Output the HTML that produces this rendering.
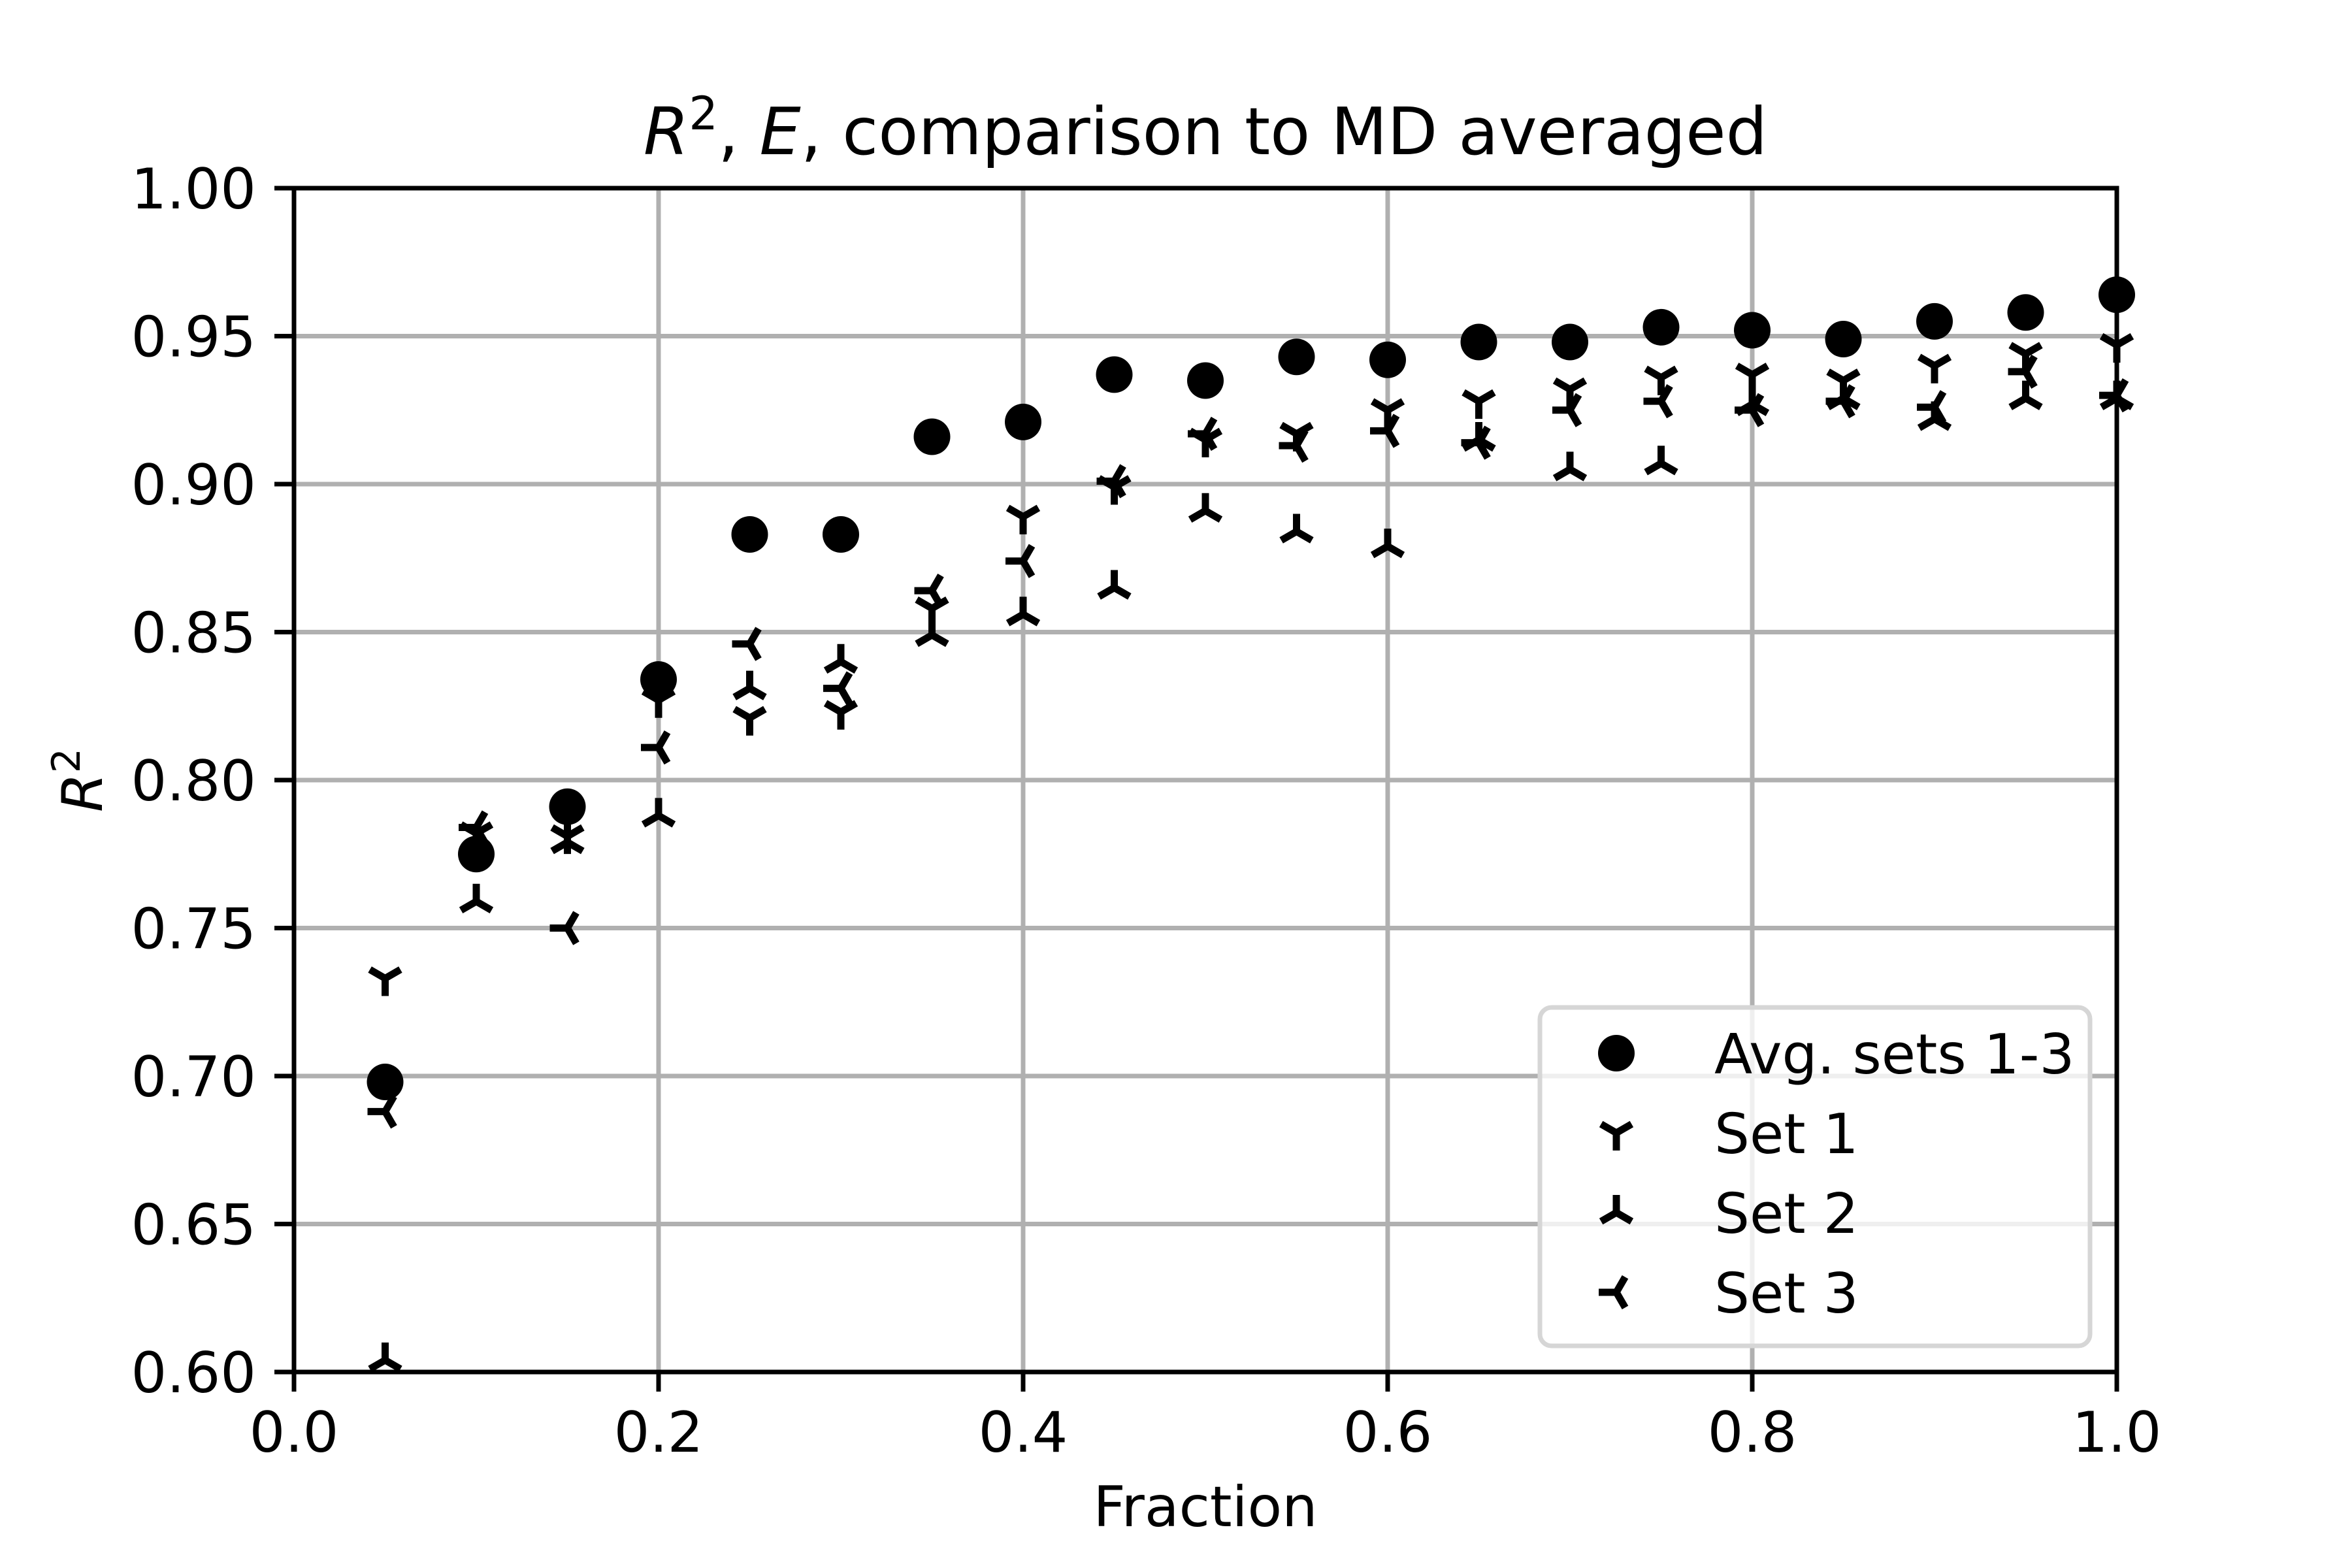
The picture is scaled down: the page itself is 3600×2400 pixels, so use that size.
<!DOCTYPE html>
<html><head><meta charset="utf-8"><style>
html,body{margin:0;padding:0;background:#fff;}
svg{display:block;font-family:"DejaVu Sans","Liberation Sans",sans-serif;}
</style></head><body>
<svg id="chart" width="3600" height="2400" viewBox="0 0 3600 2400" xmlns="http://www.w3.org/2000/svg">
<rect width="3600" height="2400" fill="#fff"/>
<g id="grid"></g>
<g id="ticks"></g>
<g id="marks"></g>
<rect x="450" y="288" width="2790" height="1812" fill="none" stroke="#000" stroke-width="7"/>
<text x="1845" y="236" font-size="100" text-anchor="middle"><tspan font-style="italic">R</tspan><tspan font-size="70" dy="-38">2</tspan><tspan dy="38">, </tspan><tspan font-style="italic">E</tspan><tspan>, comparison to MD averaged</tspan></text>
<text x="1845" y="2336" font-size="86" text-anchor="middle">Fraction</text>
<text transform="translate(156,1194) rotate(-90)" font-size="86" text-anchor="middle"><tspan font-style="italic">R</tspan><tspan font-size="60" dy="-34">2</tspan></text>
<g id="legend">
<rect x="2357" y="1542" width="842" height="518" rx="18" fill="#fff" fill-opacity="0.8" stroke="#d6d6d6" stroke-width="7"/>
</g>
</svg>
<script>
const fractions=[0.05,0.10,0.15,0.20,0.25,0.30,0.35,0.40,0.45,0.50,0.55,0.60,0.65,0.70,0.75,0.80,0.85,0.90,0.95,1.00];
const avgValues=[0.698,0.775,0.791,0.834,0.883,0.883,0.916,0.921,0.937,0.935,0.943,0.942,0.948,0.948,0.953,0.952,0.949,0.955,0.958,0.964];
const set1Values=[0.733,0.782,0.781,0.827,0.821,0.823,0.858,0.889,0.899,0.915,0.917,0.925,0.928,0.932,0.936,0.937,0.935,0.940,0.944,0.947];
const set2Values=[0.604,0.759,0.779,0.788,0.831,0.840,0.849,0.856,0.865,0.891,0.884,0.879,0.915,0.905,0.907,0.927,0.929,0.922,0.929,0.929];
const set3Values=[0.688,0.784,0.750,0.811,0.846,0.831,0.864,0.874,0.901,0.917,0.913,0.918,0.914,0.925,0.928,0.925,0.928,0.926,0.938,0.930];
const xTicks=[0,0.2,0.4,0.6,0.8,1.0];
const xTickLabels=["0.0","0.2","0.4","0.6","0.8","1.0"];
const yTicks=[0.60,0.65,0.70,0.75,0.80,0.85,0.90,0.95,1.00];
const yTickLabels=["0.60","0.65","0.70","0.75","0.80","0.85","0.90","0.95","1.00"];
const legendLabels=["Avg. sets 1-3","Set 1","Set 2","Set 3"];

const NS="http://www.w3.org/2000/svg";
const L=450,R=3240,T=288,B=2100;
function xs(v){return L+(v-0)/(1-0)*(R-L);}
function ys(v){return B-(v-0.6)/(1.0-0.6)*(B-T);}
function mk(tag,attrs,parent){const e=document.createElementNS(NS,tag);for(const k in attrs)e.setAttribute(k,attrs[k]);parent.appendChild(e);return e;}
const grid=document.getElementById('grid'),ticks=document.getElementById('ticks'),marks=document.getElementById('marks'),legend=document.getElementById('legend');
xTicks.forEach((t,i)=>{
  const g=mk('line',{x1:xs(t),x2:xs(t),y1:T,y2:B,stroke:'#b0b0b0','stroke-width':7},grid);
  
  
  const tk=mk('line',{x1:xs(t),x2:xs(t),y1:B,y2:B+30,stroke:'#000','stroke-width':7},ticks);
  
  
  const tx=mk('text',{x:xs(t),y:B+122,'font-size':86,'text-anchor':'middle'},ticks);
  tx.textContent=xTickLabels[i];
  
  
});
yTicks.forEach((t,i)=>{
  const g=mk('line',{x1:L,x2:R,y1:ys(t),y2:ys(t),stroke:'#b0b0b0','stroke-width':7},grid);
  
  
  const tk=mk('line',{x1:L-30,x2:L,y1:ys(t),y2:ys(t),stroke:'#000','stroke-width':7},ticks);
  
  
  const tx=mk('text',{x:L-58,y:ys(t)+31,'font-size':86,'text-anchor':'end'},ticks);
  tx.textContent=yTickLabels[i];
  
  
});
const r=27;
function tri(kind,cx,cy,parent){
  let d;
  if(kind==='down') d=`M${cx},${cy}L${cx},${cy+r}M${cx},${cy}L${cx-0.866*r},${cy-0.5*r}M${cx},${cy}L${cx+0.866*r},${cy-0.5*r}`;
  else if(kind==='up') d=`M${cx},${cy}L${cx},${cy-r}M${cx},${cy}L${cx-0.866*r},${cy+0.5*r}M${cx},${cy}L${cx+0.866*r},${cy+0.5*r}`;
  else d=`M${cx},${cy}L${cx-r},${cy}M${cx},${cy}L${cx+0.5*r},${cy-0.866*r}M${cx},${cy}L${cx+0.5*r},${cy+0.866*r}`;
  return mk('path',{d:d,stroke:'#000','stroke-width':11,fill:'none'},parent);
}
fractions.forEach((f,i)=>{
  const c=mk('circle',{cx:xs(f),cy:ys(avgValues[i]),r:28,fill:'#000'},marks);
  
  
});
fractions.forEach((f,i)=>{
  const a=tri('down',xs(f),ys(set1Values[i]),marks);
  
  
  const b=tri('up',xs(f),ys(set2Values[i]),marks);
  
  
  const c=tri('left',xs(f),ys(set3Values[i]),marks);
  
  
});
const rowY=[1612,1734,1856,1978];
const kinds=['circle','down','up','left'];
legendLabels.forEach((lab,i)=>{
  let m;
  if(kinds[i]==='circle') m=mk('circle',{cx:2474,cy:rowY[i],r:28,fill:'#000'},legend);
  else m=tri(kinds[i],2474,rowY[i],legend);
  
  
  const t=mk('text',{x:2624,y:rowY[i]+31,'font-size':85},legend);
  t.textContent=lab;
  
  
});
</script>
</body></html>
